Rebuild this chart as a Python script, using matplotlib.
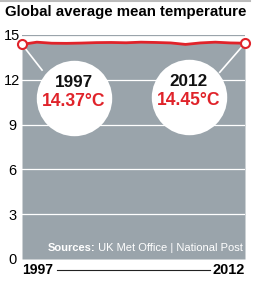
import matplotlib
matplotlib.use('Agg')
import matplotlib.pyplot as plt
from matplotlib.lines import Line2D

# data
years = [1997, 1998, 1999, 2000, 2001, 2002, 2003, 2004,
         2005, 2006, 2007, 2008, 2009, 2010, 2011, 2012]
temps = [14.37, 14.52, 14.45, 14.44, 14.46, 14.49, 14.50, 14.48,
         14.52, 14.50, 14.47, 14.37, 14.47, 14.52, 14.47, 14.45]
y_ticks = [0, 3, 6, 9, 12, 15]
start_label = ('1997', '14.37°C')
end_label = ('2012', '14.45°C')
title = 'Global average mean temperature'
source_bold = 'Sources:'
source_rest = ' UK Met Office | National Post'

GRAY = '#9aa4ab'
RED = '#e0232a'
FONT = 'Liberation Sans'

fig = plt.figure(figsize=(2.58, 2.86), dpi=100)
W, H = 258, 286
renderer = fig.canvas.get_renderer()


def fit(txt, width_px):
    # shrink/grow a text so it spans about width_px pixels
    w = txt.get_window_extent(renderer).width
    txt.set_fontsize(txt.get_fontsize() * width_px / w)
    return txt


ax = fig.add_axes([22 / W, 1 - 259 / H, 223 / W, 224 / H])
ax.set_xlim(years[0], years[-1])
ax.set_ylim(0, 15)

# gray area under the line
ax.fill_between(years, 0, temps, color=GRAY, lw=0, zorder=1)
for v in y_ticks[1:-1]:
    ax.axhline(v, color='white', lw=0.9, zorder=2)
ax.axhline(y_ticks[-1], color=GRAY, lw=0.9, zorder=2)

ax.plot(years, temps, color=RED, lw=2.0, zorder=4, solid_capstyle='round')
ax.plot([years[0], years[-1]], [temps[0], temps[-1]], 'o', ms=6.5, mfc='white',
        mec=RED, mew=1.5, zorder=6, clip_on=False)

# callout bubbles
bubbles = [(2000.5, 10.8, start_label, 1998.35, 12.65),
           (2008.2, 10.85, end_label, 2010.3, 12.5)]
bx, by = [b[0] for b in bubbles], [b[1] for b in bubbles]
ax.scatter(bx, by, s=2950, color='white', lw=0, zorder=3)
ax.plot([years[0], 1998.35], [temps[0], 12.65], color='white', lw=1.2, zorder=3)
ax.plot([years[-1], 2010.3], [temps[-1], 12.5], color='white', lw=1.2, zorder=3)
for x, y, (yr, val), _, _ in bubbles:
    fit(ax.text(x, y + 1.05, yr, ha='center', va='center', fontsize=12,
                fontweight='bold', color='#111111', zorder=5, family=FONT), 38)
    fit(ax.text(x, y - 0.25, val, ha='center', va='center', fontsize=14,
                fontweight='bold', color=RED, zorder=5, family=FONT), 64)

ax.set_yticks(y_ticks)
ax.set_yticklabels([str(t) for t in y_ticks], family=FONT)
ax.tick_params(axis='y', length=0, pad=7, labelsize=10.5)
for lab in ax.get_yticklabels():
    lab.set_horizontalalignment('center')
ax.set_xticks([])
for s in ax.spines.values():
    s.set_visible(False)

# sources inside the plot
t2 = ax.text(0.99, 0.025, source_rest, transform=ax.transAxes, ha='right',
             va='bottom', fontsize=8, color='white', zorder=5, family=FONT)
t1 = ax.text(0, 0, source_bold, transform=None, ha='right', va='bottom',
             fontsize=8, color='white', fontweight='bold', zorder=5, family=FONT)
fig.canvas.draw()
total = t1.get_window_extent(renderer).width + t2.get_window_extent(renderer).width
scale = 196 / total
t1.set_fontsize(8 * scale)
t2.set_fontsize(8 * scale)
fig.canvas.draw()
bb = t2.get_window_extent(renderer)
t1.set_position((bb.x0, bb.y0))

# title and top rule
fit(fig.text(5 / W, 1 - 12 / H, title, ha='left', va='center', fontsize=12,
             fontweight='bold', family=FONT), 241)
fig.add_artist(Line2D([0, 250 / W], [1 - 0.5 / H, 1 - 0.5 / H], color='#bbbbbb', lw=1.5))

# bottom year axis
fit(fig.text(22 / W, 1 - 270 / H, str(years[0]), ha='left', va='center',
             fontsize=10, fontweight='bold', family=FONT), 31)
fit(fig.text(245 / W, 1 - 270 / H, str(years[-1]), ha='right', va='center',
             fontsize=10, fontweight='bold', family=FONT), 32)
fig.add_artist(Line2D([57 / W, 210 / W], [1 - 270 / H, 1 - 270 / H], color='#222222', lw=0.8))

fig.savefig('out.png', dpi=100)
